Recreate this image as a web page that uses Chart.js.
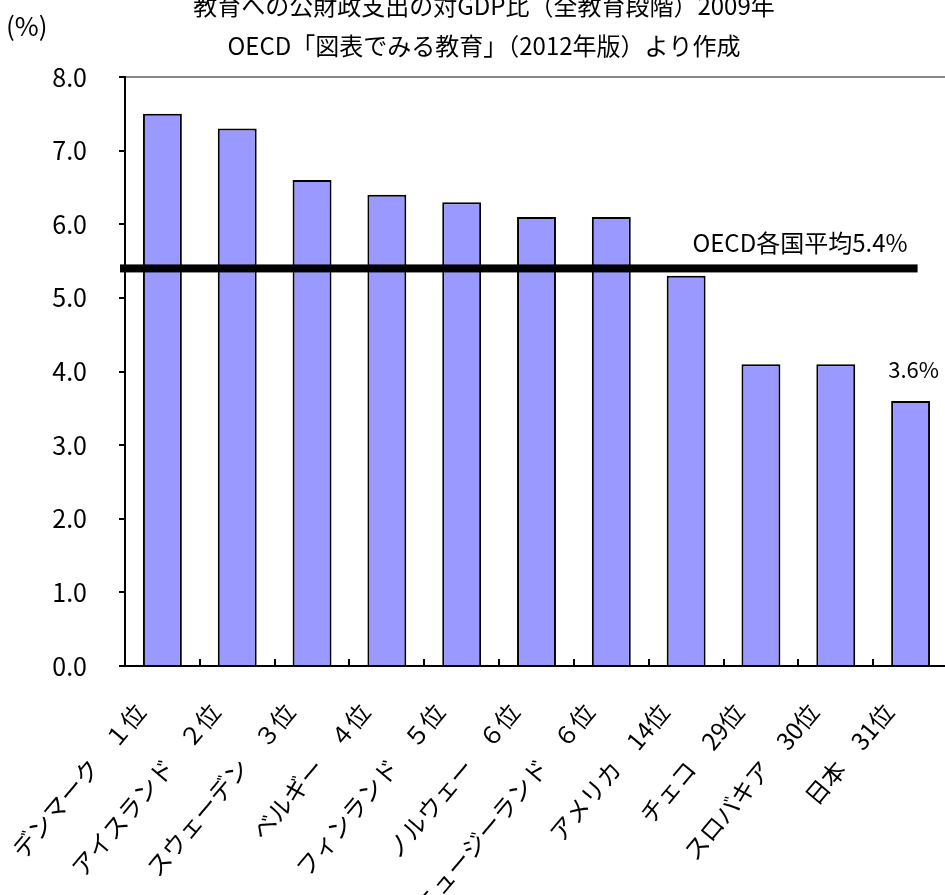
<!DOCTYPE html>
<html lang="ja">
<head>
<meta charset="utf-8">
<title>教育への公財政支出の対GDP比</title>
<script src="https://cdn.jsdelivr.net/npm/chart.js@4.4.1/dist/chart.umd.min.js"></script>
<style>
  html, body { margin: 0; padding: 0; background: #fff; overflow: hidden; }
  body { width: 945px; height: 895px; position: relative; }
  #wrap { position: absolute; left: 0; top: -16px; width: 950px; height: 911px; }
</style>
</head>
<body>
<div id="wrap"><canvas id="eduChart"></canvas></div>
<script>
// data
const countries = ['デンマーク', 'アイスランド', 'スウェーデン', 'ベルギー', 'フィンランド', 'ノルウェー',
                   'ニュージーランド', 'アメリカ', 'チェコ', 'スロバキア', '日本'];
const ranks = ['１位', '２位', '３位', '４位', '５位', '６位', '６位', '14位', '29位', '30位', '31位'];
const spending = [7.5, 7.3, 6.6, 6.4, 6.3, 6.1, 6.1, 5.3, 4.1, 4.1, 3.6];
const oecdAverage = 5.4;
const yTicks = [0, 1, 2, 3, 4, 5, 6, 7, 8];
const yTickLabels = ['0.0', '1.0', '2.0', '3.0', '4.0', '5.0', '6.0', '7.0', '8.0'];
const titleLines = ['教育への公財政支出の対GDP比（全教育段階）2009年', 'OECD「図表でみる教育」（2012年版）より作成'];
const averageLabel = 'OECD各国平均5.4%';
const japanLabel = '3.6%';
const unitLabel = '(%)';

const FONT = "'Noto Sans CJK JP', 'Noto Sans', sans-serif";

document.addEventListener('DOMContentLoaded', function() {
    createSpendingChart();
});

// extra marks: inward ticks, average line and text labels
const extrasPlugin = {
    id: 'extras',
    afterDatasetsDraw(chart) {
        const { ctx, chartArea, scales: { x, y } } = chart;
        const last = countries.length - 1;
        ctx.save();

        // small upward ticks on the category boundaries
        ctx.strokeStyle = '#000';
        ctx.lineWidth = 2;
        for (let i = 1; i <= last; i++) {
            const bx = Math.round((x.getPixelForValue(i - 1) + x.getPixelForValue(i)) / 2);
            ctx.beginPath();
            ctx.moveTo(bx, chartArea.bottom);
            ctx.lineTo(bx, chartArea.bottom - 7);
            ctx.stroke();
        }

        // OECD average line
        const ay = y.getPixelForValue(oecdAverage);
        const x0 = chartArea.left - 5;
        const x1 = x.getPixelForValue(last) + 7;
        ctx.fillStyle = '#000';
        ctx.fillRect(x0, ay - 4, x1 - x0, 8);

        ctx.font = '24px ' + FONT;
        ctx.textBaseline = 'middle';
        ctx.textAlign = 'right';
        ctx.fillText(averageLabel, x.getPixelForValue(last) - 3, ay - 26);

        // value label above Japan
        const bar = chart.getDatasetMeta(0).data[last];
        ctx.font = '22px ' + FONT;
        ctx.textAlign = 'center';
        ctx.fillText(japanLabel, bar.x + 3, bar.y - 31);

        // unit
        ctx.textAlign = 'left';
        ctx.font = '26px ' + FONT;
        ctx.fillText(unitLabel, 6, 42);
        ctx.restore();
    }
};

function createSpendingChart() {
    const labels = countries.map((c, i) => c + '　' + ranks[i]);

    const ctx = document.getElementById('eduChart').getContext('2d');
    new Chart(ctx, {
        type: 'bar',
        data: {
            labels: labels,
            datasets: [{
                data: spending,
                backgroundColor: '#9999FF',
                borderColor: '#000',
                borderWidth: 2,
                categoryPercentage: 1,
                barPercentage: 0.52
            }]
        },
        plugins: [extrasPlugin],
        options: {
            responsive: true,
            maintainAspectRatio: false,
            animation: false,
            layout: { padding: { left: 20, right: 2, top: 0, bottom: 0 } },
            plugins: {
                legend: { display: false },
                tooltip: { enabled: false },
                title: {
                    display: true,
                    text: titleLines,
                    color: '#000',
                    font: { family: FONT, size: 24, weight: 'normal', lineHeight: 40 / 24 },
                    padding: { top: 2, bottom: 11 }
                }
            },
            scales: {
                x: {
                    grid: { display: false },
                    border: { color: '#000', width: 2 },
                    ticks: {
                        autoSkip: false,
                        maxRotation: 50,
                        minRotation: 50,
                        color: '#000',
                        padding: 24,
                        labelOffset: -22,
                        font: { family: FONT, size: 24 }
                    },
                    afterFit(scale) {
                        scale.height = 229;
                        scale.paddingLeft = 0;
                        scale.paddingRight = 0;
                    }
                },
                y: {
                    min: 0,
                    max: 8,
                    afterBuildTicks(scale) {
                        scale.ticks = yTicks.map(v => ({ value: v }));
                    },
                    ticks: {
                        color: '#000',
                        padding: 32,
                        font: { family: FONT, size: 25 },
                        callback: (value, i) => yTickLabels[i]
                    },
                    grid: {
                        color: c => (c.tick && c.tick.value === 8 ? '#888' : 'rgba(0,0,0,0)'),
                        tickColor: '#000',
                        tickLength: 6,
                        lineWidth: 2
                    },
                    border: { color: '#000', width: 2 },
                    afterFit(scale) {
                        scale.width = 105;
                        scale.paddingTop = 0;
                        scale.paddingBottom = 0;
                    }
                }
            }
        }
    });
}
</script>
</body>
</html>
